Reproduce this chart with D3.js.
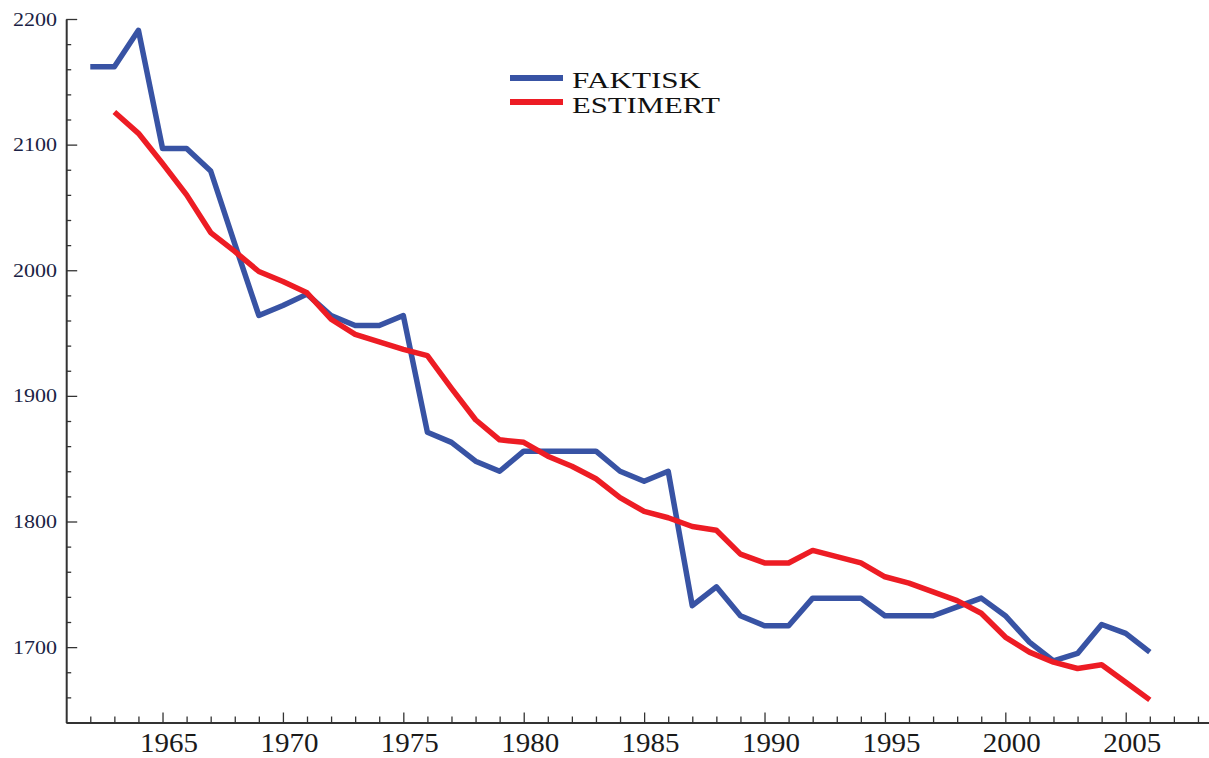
<!DOCTYPE html>
<html>
<head>
<meta charset="utf-8">
<script src="https://cdn.jsdelivr.net/npm/d3@7"></script>
<style>
  html, body { margin: 0; padding: 0; background: #fff; }
  svg { display: block; }
  text { font-family: "Liberation Serif", "DejaVu Serif", serif; }
</style>
</head>
<body>
<svg id="chart" width="1209" height="758"></svg>
<script>
// ---- data ----
const faktiskYears = d3.range(1962, 2007);
const faktisk = [2162, 2162, 2191, 2097, 2097, 2079, 2021, 1964, 1972, 1981,
                 1964, 1956, 1956, 1964, 1871, 1863, 1848, 1840, 1856, 1856,
                 1856, 1856, 1840, 1832, 1840, 1733, 1748, 1725, 1717, 1717,
                 1739, 1739, 1739, 1725, 1725, 1725, 1732, 1739, 1725, 1704,
                 1689, 1695, 1718, 1711, 1696];
const estimertYears = d3.range(1963, 2007);
const estimert = [2126, 2109, 2085, 2060, 2030, 2015, 1999, 1991, 1982, 1961,
                  1949, 1943, 1937, 1932, 1906, 1881, 1865, 1863, 1852, 1844,
                  1834, 1819, 1808, 1803, 1796, 1793, 1774, 1767, 1767, 1777,
                  1772, 1767, 1756, 1751, 1744, 1737, 1727, 1708, 1696, 1688,
                  1683, 1686, 1672, 1658];
const seriesNames = ["FAKTISK", "ESTIMERT"];
const seriesColors = ["#3853a4", "#ed1c24"];
const xMajorTicks = [1965, 1970, 1975, 1980, 1985, 1990, 1995, 2000, 2005];
const xMinorTicks = d3.range(1962, 2009).filter(y => y % 5 !== 0);
const yMajorTicks = [1700, 1800, 1900, 2000, 2100, 2200];
const yMinorTicks = d3.range(1640, 2201, 20).filter(v => v % 100 !== 0);

// ---- scales ----
const svg = d3.select("#chart");
const x = d3.scaleLinear().domain([1961, 2008.5]).range([66.2, 1210]);
const y = d3.scaleLinear().domain([1640, 2200]).range([722.5, 19]);
const axisColor = "#333";

// ---- axes ----
const xAxisMajor = d3.axisTop(x).tickValues(xMajorTicks).tickSize(10).tickFormat("").tickSizeOuter(0);
const xAxisMinor = d3.axisTop(x).tickValues(xMinorTicks).tickSize(6).tickFormat("").tickSizeOuter(0);
const gx = svg.append("g").attr("transform", `translate(0,${y(1640)})`);
gx.call(xAxisMajor);
svg.append("g").attr("transform", `translate(0,${y(1640)})`).call(xAxisMinor).select(".domain").remove();
gx.select(".domain").attr("stroke", axisColor).attr("stroke-width", 2);

const yAxisMajor = d3.axisRight(y).tickValues(yMajorTicks).tickSize(11).tickFormat("").tickSizeOuter(0);
const yAxisMinor = d3.axisRight(y).tickValues(yMinorTicks).tickSize(5).tickFormat("").tickSizeOuter(0);
const gy = svg.append("g").attr("transform", `translate(${x(1961)},0)`);
gy.call(yAxisMajor);
svg.append("g").attr("transform", `translate(${x(1961)},0)`).call(yAxisMinor).select(".domain").remove();
gy.select(".domain").attr("stroke", axisColor).attr("stroke-width", 2);
svg.selectAll("g .tick line").attr("stroke", axisColor).attr("stroke-width", 1.3);

// tick labels
svg.append("g").selectAll("text").data(xMajorTicks).join("text")
  .attr("x", d => x(d) + 6.5)
  .attr("y", 752)
  .attr("text-anchor", "middle")
  .attr("font-size", 27)
  .attr("textLength", 58)
  .attr("lengthAdjust", "spacingAndGlyphs")
  .attr("fill", "#1a1a1a")
  .text(d => d);

svg.append("g").selectAll("text").data(yMajorTicks).join("text")
  .attr("x", 57)
  .attr("y", d => y(d) + 6.5)
  .attr("text-anchor", "end")
  .attr("font-size", 19)
  .attr("textLength", 44)
  .attr("lengthAdjust", "spacingAndGlyphs")
  .attr("fill", "#1c1f45")
  .text(d => d);

// ---- lines ----
const line = d3.line().x(d => x(d[0])).y(d => y(d[1]));
const seriesData = [
  d3.zip(faktiskYears, faktisk),
  d3.zip(estimertYears, estimert)
];
svg.append("g").selectAll("path").data(seriesData).join("path")
  .attr("d", line)
  .attr("fill", "none")
  .attr("stroke", (d, i) => seriesColors[i])
  .attr("stroke-width", 5.5)
  .attr("stroke-linejoin", "round");

// ---- legend ----
const legend = svg.append("g");
const legendRows = [
  { name: seriesNames[0], color: seriesColors[0], ly: 78, ty: 88, len: 129 },
  { name: seriesNames[1], color: seriesColors[1], ly: 102, ty: 112.5, len: 148 }
];
legend.selectAll("line").data(legendRows).join("line")
  .attr("x1", 510).attr("x2", 563)
  .attr("y1", d => d.ly).attr("y2", d => d.ly)
  .attr("stroke", d => d.color)
  .attr("stroke-width", 6);
legend.selectAll("text").data(legendRows).join("text")
  .attr("x", 572)
  .attr("y", d => d.ty)
  .attr("font-size", 24)
  .attr("textLength", d => d.len)
  .attr("lengthAdjust", "spacingAndGlyphs")
  .attr("fill", "#111")
  .text(d => d.name);
</script>
</body>
</html>
